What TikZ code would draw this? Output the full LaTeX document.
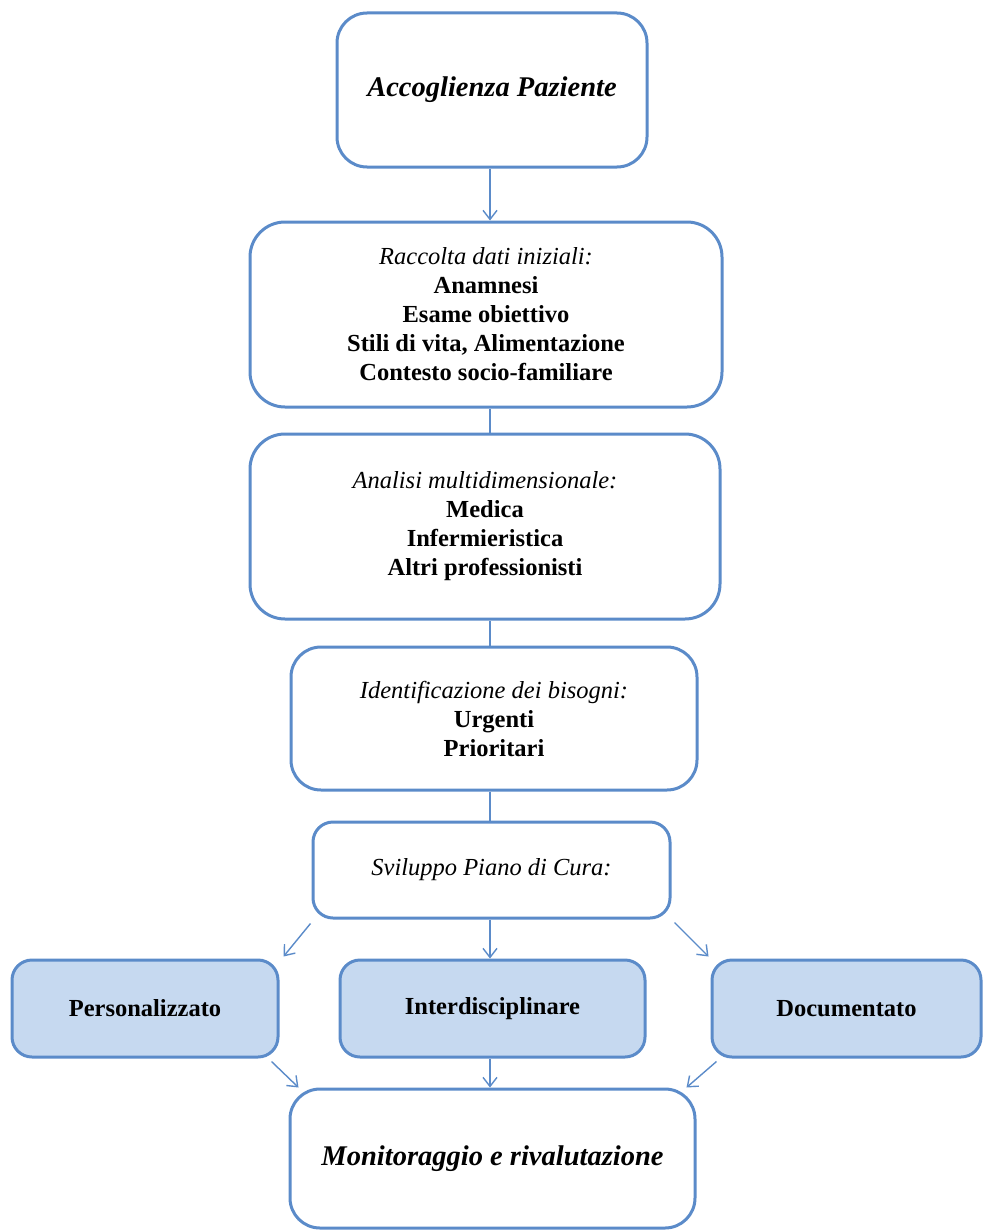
\documentclass[tikz,border=0pt]{standalone}
\usepackage{fontspec}
\setmainfont{Liberation Serif}
\usetikzlibrary{arrows.meta}
\definecolor{bord}{HTML}{5B8BC9}
\definecolor{lfill}{HTML}{C6D9F0}
\tikzset{
  box/.style={draw=bord, line width=3pt, rounded corners=30pt, align=center, inner sep=0pt,
    font=\fontsize{24.5}{29}\selectfont},
  fbox/.style={box, fill=lfill, rounded corners=20pt},
  conn/.style={draw=bord, line width=1.4pt},
  arr/.style={conn, -{Straight Barb[length=9pt,width=14pt,line width=1.4pt]}},
}
\begin{document}
\begin{tikzpicture}[x=1pt,y=-1pt]
\useasboundingbox (0,0) rectangle (983,1231);
\node[box, minimum width=310pt, minimum height=154pt] (acc) at (492,90)
  {\fontsize{28.5}{32}\selectfont\bfseries\itshape Accoglienza Paziente};
\node[box, rounded corners=35pt, minimum width=472pt, minimum height=185pt] (rac) at (486,314.5)
  {\itshape Raccolta dati iniziali:\\ \bfseries Anamnesi\\ \bfseries Esame obiettivo\\
   \bfseries Stili di vita, Alimentazione\\ \bfseries Contesto socio-familiare};
\node[box, rounded corners=35pt, minimum width=470pt, minimum height=185pt] (ana) at (485,526.5)
  {\itshape Analisi multidimensionale:\\ \bfseries Medica\\ \bfseries Infermieristica\\
   \bfseries Altri professionisti};
\node[box, minimum width=406pt, minimum height=143pt] (ide) at (494,718.5)
  {\itshape Identificazione dei bisogni:\\ \bfseries Urgenti\\ \bfseries Prioritari};
\node[box, rounded corners=20pt, minimum width=357pt, minimum height=96pt] (svi) at (491.5,870)
  {\itshape Sviluppo Piano di Cura:};
\node[fbox, minimum width=266pt, minimum height=97pt] (per) at (145,1008.5)
  {\bfseries Personalizzato};
\node[fbox, minimum width=305pt, minimum height=97pt] (int) at (492.5,1008.5)
  {\bfseries Interdisciplinare};
\node[fbox, minimum width=269pt, minimum height=97pt] (doc) at (846.5,1008.5)
  {\bfseries Documentato};
\node[box, minimum width=405pt, minimum height=139pt] (mon) at (492.5,1158.5)
  {\fontsize{28.5}{32}\selectfont\bfseries\itshape Monitoraggio e rivalutazione};
% connectors
\draw[arr] (acc.south -| 490,0) -- (rac.north -| 490,0);
\draw[conn] (rac.south -| 490,0) -- (ana.north -| 490,0);
\draw[conn] (ana.south -| 490,0) -- (ide.north -| 490,0);
\draw[conn] (ide.south -| 490,0) -- (svi.north -| 490,0);
\draw[arr] ([shift={(-1,4)}]svi.south west) -- ([shift={(4,-2)}]per.north east);
\draw[arr] (svi.south -| 490,0) -- (int.north -| 490,0);
\draw[arr] ([shift={(3,3)}]svi.south east) -- ([shift={(-2,-2)}]doc.north west);
\draw[arr] ([shift={(-8,3)}]per.south east) -- ([shift={(10,0)}]mon.north west);
\draw[arr] (int.south -| 490,0) -- (mon.north -| 490,0);
\draw[arr] ([shift={(6,3)}]doc.south west) -- ([shift={(-10,0)}]mon.north east);
\end{tikzpicture}
\end{document}
